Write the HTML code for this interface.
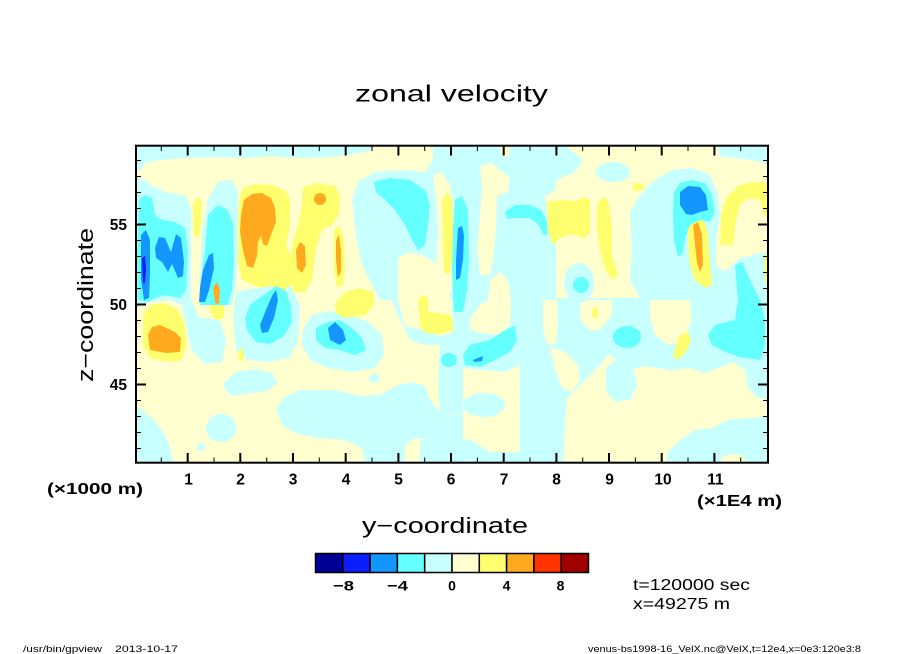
<!DOCTYPE html>
<html><head><meta charset="utf-8"><style>
html,body{margin:0;padding:0;background:#fff;}
svg{display:block;}
text{font-family:"Liberation Sans",sans-serif;fill:#000;}
</style></head><body>
<svg width="904" height="654" viewBox="0 0 904 654" xmlns="http://www.w3.org/2000/svg">
<defs><clipPath id="c"><rect x="136" y="145.7" width="632" height="317"/></clipPath></defs>
<g clip-path="url(#c)">
<rect x="130" y="140" width="645" height="330" fill="#ffffd0"/>
<g fill="#c8ffff">
<path d="M130,140 H376 L372,150 L355,154 L330,157 L300,158 L270,156 L245,158 L215,157 L185,158 L160,160 L145,163 L140,170 L130,172 Z"/>
<path d="M130,178 L145,180 L155,188 L170,193 L186,196 L191,210 L191,300 L200,318 L220,320 L226,340 L222,362 L205,364 L192,350 L186,325 L182,305 L170,300 L150,302 L143,305 L130,312 Z"/>
<path d="M200,295 L202,232 L208,200 L218,182 L232,180 L238,192 L238,245 L236,285 L232,305 L212,306 Z"/>
<path d="M236,292 L258,288 L276,282 L292,288 L300,305 L298,340 L290,357 L270,362 L248,360 L236,350 L233,320 Z"/>
<ellipse cx="221" cy="428" rx="15" ry="14"/>
<circle cx="201" cy="447" r="4"/>
<path d="M224,382 L236,372 L256,369 L272,373 L277,383 L268,391 L250,393 L234,396 L225,390 Z"/>
<path d="M303,330 L312,315 L330,311 L352,316 L368,322 L382,335 L384,355 L375,368 L352,372 L328,368 L310,360 L302,345 Z"/>
<circle cx="374" cy="378" r="5"/>
<path d="M130,402 L150,416 L162,430 L170,446 L174,470 L130,470 Z"/>
<path d="M276,410 L283,398 L300,390 L335,390 L360,396 L380,395 L396,386 L412,382 L425,386 L430,400 L440,412 L450,415 L463,413 L463,440 L440,440 L415,438 L405,445 L404,470 L366,470 L362,448 L345,440 L318,438 L298,434 L283,426 Z"/>
<path d="M352,200 L358,182 L375,172 L405,170 L425,172 L433,160 L433,140 L560,140 L570,150 L583,160 L575,172 L556,180 L556,190 L545,196 L550,235 L556,240 L556,300 L545,300 L543,345 L520,365 L505,372 L463,368 L463,413 L450,414 L440,412 L438,390 L440,345 L425,345 L410,340 L400,320 L392,300 L380,300 L372,285 L362,265 L356,235 Z"/>
<path d="M543,298 L640,298 L630,280 L632,250 L630,212 L640,195 L655,180 L672,170 L692,168 L710,175 L718,195 L720,215 L716,240 L716,265 L725,272 L740,258 L775,250 L775,470 L520,470 L520,365 L543,345 Z"/>
<path d="M717,140 H775 V165 L750,160 L735,158 L720,156 Z"/>
<ellipse cx="613" cy="172" rx="17" ry="10"/>
<ellipse cx="484" cy="405" rx="21" ry="12"/>
<path d="M420,440 L450,438 L470,440 L490,452 L520,452 L520,470 L420,470 Z"/>
</g>
<g fill="#ffffd0">
<path d="M480,166 L492,163 L500,170 L510,178 L508,192 L497,196 L496,230 L493,260 L490,275 L480,275 L477,250 L480,215 L482,190 Z"/>
<path d="M490,280 L500,272 L508,280 L511,300 L510,325 L500,335 L480,333 L470,330 L470,318 L480,305 L488,300 Z"/>
<ellipse cx="505" cy="149" rx="5" ry="8"/>
<path d="M433,175 L442,172 L450,185 L453,200 L452,290 L447,300 L440,300 L436,270 L438,230 L436,200 Z"/>
<path d="M398,258 L410,252 L425,256 L440,266 L446,290 L452,300 L453,333 L440,336 L422,330 L405,326 L398,300 Z"/>
<path d="M543,300 L557,300 L558,320 L556,343 L548,345 L543,330 Z"/>
<path d="M550,347 L565,352 L578,365 L580,380 L572,392 L562,388 L555,370 Z"/>
<path d="M580,300 L612,300 L612,315 L600,330 L588,330 L580,318 Z"/>
<path d="M650,300 L690,300 L692,320 L684,340 L668,345 L655,335 L650,318 Z"/>
<path d="M563,470 L565,420 L567,398 L575,390 L590,375 L600,365 L608,355 L618,360 L628,370 L645,366 L670,370 L690,368 L705,373 L718,368 L733,362 L745,370 L748,388 L758,398 L775,400 L775,416 L748,418 L728,420 L712,428 L695,430 L680,440 L668,452 L665,470 Z"/>
<ellipse cx="733" cy="460" rx="12" ry="6"/>
</g>
<path fill="#c8ffff" d="M606,368 L618,358 L632,366 L637,385 L630,400 L616,402 L606,392 Z"/>
<ellipse fill="#c8ffff" cx="579" cy="283" rx="15" ry="20"/>
<g fill="#ffff6e">
<path d="M193,205 L197,197 L201,200 L201,220 L199,238 L194,236 Z"/>
<path d="M211,282 L216,275 L222,278 L224,300 L224,318 L215,320 L209,308 Z"/>
<path d="M238,260 L239,200 L243,188 L255,184 L272,185 L285,190 L290,200 L290,225 L286,245 L292,258 L296,280 L285,290 L270,286 L260,288 L250,283 L242,280 Z"/>
<path d="M303,187 L318,183 L335,186 L340,196 L339,214 L333,224 L322,230 L316,248 L312,280 L305,292 L293,292 L290,270 L292,245 L298,225 L302,205 Z"/>
<path d="M334,230 L339,225 L343,235 L345,260 L343,285 L337,288 L334,270 Z"/>
<path d="M143,315 L150,305 L165,303 L178,310 L185,325 L186,345 L182,360 L168,362 L150,358 L143,345 Z"/>
<ellipse cx="241" cy="355" rx="3" ry="6"/>
<path d="M335,303 L345,292 L360,288 L373,292 L374,305 L365,315 L345,318 L336,313 Z"/>
<path d="M418,300 L422,295 L428,298 L428,312 L440,313 L452,316 L453,330 L440,334 L425,333 L420,325 Z"/>
<path d="M442,200 L447,193 L452,198 L453,230 L452,260 L449,275 L444,272 L443,240 Z"/>
<path d="M547,202 L560,200 L575,201 L585,197 L590,200 L590,232 L585,238 L570,234 L560,238 L552,245 L548,230 Z"/>
<path d="M597,205 L602,197 L608,200 L612,225 L612,255 L618,275 L613,280 L605,270 L600,250 L597,230 Z"/>
<ellipse cx="638" cy="187" rx="6" ry="4"/>
<path d="M688,222 L695,215 L703,218 L708,232 L710,260 L712,285 L705,288 L695,280 L690,265 L688,245 Z"/>
<path d="M720,245 L721,215 L727,197 L738,186 L752,182 L775,183 L775,225 L764,215 L760,200 L748,198 L740,205 L736,220 L733,245 Z"/>
<path d="M680,335 L688,332 L691,340 L686,352 L678,360 L673,356 L676,345 Z"/>
<ellipse cx="595" cy="313" rx="3" ry="6"/>
<path d="M764,255 L770,255 L770,285 L765,282 Z"/>
</g>
<g fill="#64ffff">
<path d="M139,200 L145,195 L152,198 L155,215 L162,220 L175,222 L185,228 L188,250 L186,290 L180,298 L165,295 L155,298 L148,302 L138,300 L137,260 Z"/>
<path d="M208,215 L218,205 L228,210 L233,225 L234,262 L232,290 L228,305 L200,305 L200,285 L205,250 Z"/>
<path d="M250,305 L262,296 L276,286 L286,291 L291,306 L292,322 L284,336 L270,344 L256,342 L247,330 L245,318 Z"/>
<path d="M316,328 L328,322 L340,320 L352,328 L362,338 L366,350 L355,355 L340,350 L325,348 L316,340 Z"/>
<path d="M374,182 L390,178 L410,180 L425,190 L430,205 L428,225 L425,245 L418,250 L412,240 L405,225 L395,210 L385,200 L376,192 Z"/>
<ellipse cx="449" cy="360" rx="8" ry="7"/>
<path d="M455,200 L462,196 L468,210 L469,260 L467,290 L463,312 L454,312 L452,270 L453,230 Z"/>
<path d="M463,355 L470,345 L490,340 L505,330 L515,326 L517,340 L510,352 L495,360 L480,367 L465,365 Z"/>
<path d="M505,212 L515,205 L530,205 L542,211 L547,222 L547,236 L543,234 L538,224 L530,218 L515,218 L507,219 Z"/>
<path d="M674,192 L680,183 L692,180 L705,183 L712,195 L715,212 L710,222 L700,220 L690,225 L686,235 L682,255 L678,256 L674,240 L673,215 Z"/>
<ellipse cx="627" cy="337" rx="14" ry="11"/>
<ellipse cx="581" cy="285" rx="8" ry="8"/>
<path d="M735,265 L742,262 L750,280 L760,300 L765,320 L765,345 L760,360 L740,357 L725,352 L712,345 L708,335 L715,325 L735,320 L738,300 Z"/>
</g>
<g fill="#ffaa1e">
<path d="M241,215 L244,200 L252,194 L262,193 L271,198 L275,208 L276,222 L271,235 L267,246 L263,244 L261,236 L258,242 L257,256 L253,268 L247,266 L243,250 L240,232 Z"/>
<ellipse cx="320" cy="199" rx="6" ry="6"/>
<path d="M296,250 L300,242 L305,246 L306,265 L302,273 L297,268 Z"/>
<path d="M336,240 L339,235 L341,250 L341,272 L338,277 L336,260 Z"/>
<path d="M213,288 L217,282 L220,290 L219,304 L215,303 Z"/>
<path d="M148,335 L152,327 L160,325 L175,332 L181,338 L180,352 L166,353 L150,350 Z"/>
<path d="M693,225 L698,222 L702,235 L703,265 L700,272 L697,262 L695,245 Z"/>
</g>
<g fill="#1496ff">
<path d="M141,235 L146,230 L150,240 L150,275 L149,298 L144,300 L141,280 Z"/>
<path d="M155,248 L159,237 L165,238 L171,252 L176,234 L181,238 L184,262 L183,276 L178,278 L172,264 L168,272 L162,262 L156,258 Z"/>
<path d="M203,270 L209,255 L213,253 L214,268 L209,290 L205,302 L199,302 L200,288 Z"/>
<path d="M260,325 L266,310 L272,296 L276,290 L278,300 L274,318 L268,332 L262,333 Z"/>
<path d="M328,328 L335,322 L343,330 L346,340 L340,345 L330,340 Z"/>
<path d="M458,228 L462,226 L464,235 L463,260 L460,278 L456,280 L456,260 Z"/>
<path d="M473,360 L483,356 L482,361 L474,362 Z"/>
<path d="M680,192 L688,186 L700,187 L706,195 L708,210 L700,212 L692,215 L686,214 L680,205 Z"/>
</g>
<path fill="#0a1eff" d="M142,258 L145,256 L146,270 L145,283 L143,283 Z"/>
</g>
<rect x="136" y="145.7" width="632" height="317" fill="none" stroke="#000" stroke-width="2"/>
<path stroke="#000" stroke-width="2" fill="none" d="
M187.7,462.8V453 M240.3,462.8V453 M293,462.8V453 M345.7,462.8V453 M398.4,462.8V453 M451,462.8V453 M503.7,462.8V453 M556.4,462.8V453 M609,462.8V453 M661.7,462.8V453 M714.4,462.8V453
M187.7,145.7V155.5 M240.3,145.7V155.5 M293,145.7V155.5 M345.7,145.7V155.5 M398.4,145.7V155.5 M451,145.7V155.5 M503.7,145.7V155.5 M556.4,145.7V155.5 M609,145.7V155.5 M661.7,145.7V155.5 M714.4,145.7V155.5
M136,384.5H146 M136,304.5H146 M136,224.5H146
M768,384.5H758 M768,304.5H758 M768,224.5H758"/>
<path stroke="#000" stroke-width="1" fill="none" d="
M161.3,462.8V457.5 M214,462.8V457.5 M266.7,462.8V457.5 M319.3,462.8V457.5 M372,462.8V457.5 M424.7,462.8V457.5 M477.4,462.8V457.5 M530,462.8V457.5 M582.7,462.8V457.5 M635.4,462.8V457.5 M688,462.8V457.5 M740.7,462.8V457.5
M161.3,145.7V151 M214,145.7V151 M266.7,145.7V151 M319.3,145.7V151 M372,145.7V151 M424.7,145.7V151 M477.4,145.7V151 M530,145.7V151 M582.7,145.7V151 M635.4,145.7V151 M688,145.7V151 M740.7,145.7V151
M136,448.5H141 M136,432.5H141 M136,416.5H141 M136,400.5H141 M136,368.5H141 M136,352.5H141 M136,336.5H141 M136,320.5H141 M136,288.5H141 M136,272.5H141 M136,256.5H141 M136,240.5H141 M136,208.5H141 M136,192.5H141 M136,176.5H141 M136,160.5H141
M768,448.5H763 M768,432.5H763 M768,416.5H763 M768,400.5H763 M768,368.5H763 M768,352.5H763 M768,336.5H763 M768,320.5H763 M768,288.5H763 M768,272.5H763 M768,256.5H763 M768,240.5H763 M768,208.5H763 M768,192.5H763 M768,176.5H763 M768,160.5H763"/>
<g font-size="15.5" font-weight="bold" text-anchor="middle">
<text x="188.5" y="484.5">1</text>
<text x="240.5" y="484.5">2</text>
<text x="293" y="484.5">3</text>
<text x="346" y="484.5">4</text>
<text x="398.5" y="484.5">5</text>
<text x="451" y="484.5">6</text>
<text x="504" y="484.5">7</text>
<text x="556.5" y="484.5">8</text>
<text x="609.5" y="484.5">9</text>
<text x="663" y="484.5">10</text>
<text x="715.5" y="484.5">11</text>
</g>
<g font-size="15.5" font-weight="bold" text-anchor="end">
<text x="127" y="230">55</text>
<text x="127" y="310">50</text>
<text x="127" y="390">45</text>
</g>
<text x="47" y="494" font-size="15.5" font-weight="bold" textLength="96" lengthAdjust="spacingAndGlyphs">(×1000 m)</text>
<text x="697" y="506" font-size="15.5" font-weight="bold" textLength="85" lengthAdjust="spacingAndGlyphs">(×1E4 m)</text>
<text x="355" y="101.5" font-size="23" textLength="193" lengthAdjust="spacingAndGlyphs">zonal velocity</text>
<text x="362" y="533" font-size="22" textLength="166" lengthAdjust="spacingAndGlyphs">y−coordinate</text>
<text transform="translate(93,382) rotate(-90)" font-size="22" textLength="154" lengthAdjust="spacingAndGlyphs">z−coordinate</text>
<g stroke="#000" stroke-width="1.5">
<rect x="315.5" y="553.5" width="27.3" height="19" fill="#000096"/>
<rect x="342.8" y="553.5" width="27.3" height="19" fill="#0a1eff"/>
<rect x="370.1" y="553.5" width="27.3" height="19" fill="#1496ff"/>
<rect x="397.4" y="553.5" width="27.3" height="19" fill="#64ffff"/>
<rect x="424.7" y="553.5" width="27.3" height="19" fill="#c8ffff"/>
<rect x="452.0" y="553.5" width="27.3" height="19" fill="#ffffd0"/>
<rect x="479.3" y="553.5" width="27.3" height="19" fill="#ffff6e"/>
<rect x="506.6" y="553.5" width="27.3" height="19" fill="#ffaa1e"/>
<rect x="533.9" y="553.5" width="27.3" height="19" fill="#ff3200"/>
<rect x="561.2" y="553.5" width="27.3" height="19" fill="#a00000"/>
</g>
<g font-size="14" font-weight="bold">
<text x="333" y="590.5" textLength="21" lengthAdjust="spacingAndGlyphs">−8</text>
<text x="387" y="590.5" textLength="21" lengthAdjust="spacingAndGlyphs">−4</text>
<text x="452" y="590.5" text-anchor="middle">0</text>
<text x="506.5" y="590.5" text-anchor="middle">4</text>
<text x="560.5" y="590.5" text-anchor="middle">8</text>
</g>
<text x="633" y="590" font-size="15.5" textLength="117" lengthAdjust="spacingAndGlyphs">t=120000 sec</text>
<text x="633" y="609" font-size="15.5" textLength="97" lengthAdjust="spacingAndGlyphs">x=49275 m</text>
<text x="23" y="652" font-size="9.5" textLength="79" lengthAdjust="spacingAndGlyphs">/usr/bin/gpview</text>
<text x="115" y="652" font-size="9.5" textLength="63" lengthAdjust="spacingAndGlyphs">2013-10-17</text>
<text x="588" y="652" font-size="9.5" textLength="273" lengthAdjust="spacingAndGlyphs">venus-bs1998-16_VelX.nc@VelX,t=12e4,x=0e3:120e3:8</text>
</svg>
</body></html>
